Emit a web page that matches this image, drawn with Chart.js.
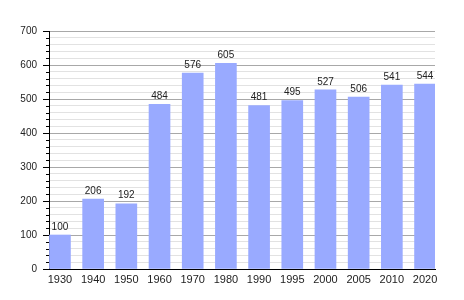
<!DOCTYPE html>
<html>
<head>
<meta charset="utf-8">
<script src="https://cdn.jsdelivr.net/npm/chart.js@4"></script>
<style>
  html, body { margin: 0; padding: 0; background: #fff; }
  #wrap { width: 464px; height: 300px; }
</style>
</head>
<body>
<div id="wrap"><canvas id="chart"></canvas></div>
<script>
const years = ["1930", "1940", "1950", "1960", "1970", "1980", "1990", "1995", "2000", "2005", "2010", "2020"];
const population = [100, 206, 192, 484, 576, 605, 481, 495, 527, 506, 541, 544];
const yTicks = [0, 100, 200, 300, 400, 500, 600, 700];

const FONT = '"Liberation Sans", Arial, sans-serif';

// minor tick marks on the y axis + value labels above the bars
const extras = {
  id: 'extras',
  afterDatasetsDraw(chart) {
    const ctx = chart.ctx;
    const y = chart.scales.y;
    ctx.save();
    ctx.strokeStyle = '#000';
    ctx.lineWidth = 1;
    y.ticks.forEach(t => {
      if (t.value % 100 !== 0) {
        const py = Math.round(y.getPixelForValue(t.value)) + 0.5;
        ctx.beginPath();
        ctx.moveTo(y.right - 3, py);
        ctx.lineTo(y.right, py);
        ctx.stroke();
      }
    });
    ctx.font = '10px ' + FONT;
    ctx.fillStyle = '#222';
    ctx.textAlign = 'center';
    ctx.textBaseline = 'bottom';
    chart.getDatasetMeta(0).data.forEach((bar, i) => {
      ctx.fillText(population[i], bar.x, bar.y - 3);
    });
    ctx.restore();
  }
};

new Chart(document.getElementById("chart"), {
    type: 'bar',
    data: {
        datasets: [{
            data: population.map((v, i) => ({x: i, y: v})),
            backgroundColor: "#99aaff",
            borderWidth: 0,
            barThickness: 21
        }]
    },
    options: {
        maintainAspectRatio: false,
        responsive: true,
        animation: false,
        layout: { padding: { top: 31, right: 29, bottom: 0, left: 0 } },
        plugins: {
            legend: { display: false },
            tooltip: { enabled: false }
        },
        scales: {
            x: {
                type: 'linear',
                offset: false,
                min: -0.33,
                max: 11.3,
                afterBuildTicks: s => { s.ticks = years.map((_, i) => ({value: i})); },
                afterFit: s => { s.height = 31; },
                grid: { display: false, drawTicks: false },
                border: { display: true, color: '#000', width: 1 },
                ticks: {
                    autoSkip: false,
                    maxRotation: 0,
                    padding: 4,
                    color: '#222',
                    font: { family: FONT, size: 11 },
                    callback: v => years[v]
                }
            },
            y: {
                min: 0,
                max: 700,
                afterFit: s => { s.width = 49; },
                grid: {
                    color: c => (c.tick && c.tick.value % 100 === 0) ? '#a8a8a8' : '#e2e2e2',
                    tickColor: c => (c.tick && c.tick.value % 100 === 0) ? '#000' : 'rgba(0,0,0,0)',
                    tickLength: 6
                },
                border: { display: true, color: '#000', width: 1 },
                ticks: {
                    stepSize: 20,
                    autoSkip: false,
                    padding: 6,
                    color: '#222',
                    font: { family: FONT, size: 10 },
                    callback: v => yTicks.includes(v) ? String(v) : ''
                }
            }
        }
    },
    plugins: [extras]
});
</script>
</body>
</html>
